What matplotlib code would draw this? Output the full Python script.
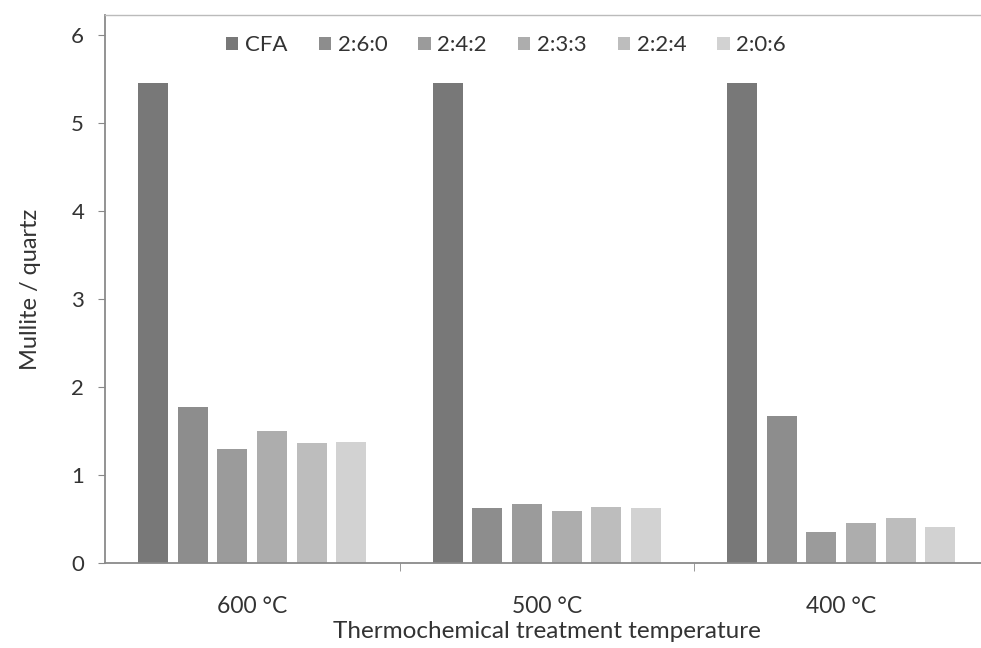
import numpy as np
import matplotlib
matplotlib.use("Agg")
import matplotlib.pyplot as plt

plt.rcParams['font.family'] = ['Lato', 'DejaVu Sans']

# data
temperatures = ["600 °C", "500 °C", "400 °C"]
series_names = ["CFA", "2:6:0", "2:4:2", "2:3:3", "2:2:4", "2:0:6"]
cfa = [5.45, 5.45, 5.45]
r260 = [1.77, 0.62, 1.67]
r242 = [1.30, 0.67, 0.35]
r233 = [1.50, 0.59, 0.46]
r224 = [1.36, 0.64, 0.51]
r206 = [1.37, 0.62, 0.41]
values = [cfa, r260, r242, r233, r224, r206]
colors = ["#787878", "#8d8d8d", "#9b9b9b", "#adadad", "#bdbdbd", "#d2d2d2"]

fig = plt.figure(figsize=(9.81, 6.48), dpi=100)
ax = fig.add_axes([105 / 981, 85 / 648, 883.5 / 981, 548 / 648])

x = np.arange(len(temperatures))
step = 0.1345
width = 0.102
for i, (name, vals, c) in enumerate(zip(series_names, values, colors)):
    offs = (i - 2.5) * step
    ax.bar(x + offs, vals, width=width, color=c, label=name, zorder=2)

ax.set_xlim(-0.5, 2.5)
ax.set_ylim(0, 548 / 88)
ax.set_yticks(range(0, 7))
ax.set_xticks(x)
ax.set_xticklabels(temperatures)
ax.set_xticks([0.5, 1.5], minor=True)
ax.tick_params(axis='x', which='major', length=0, pad=24, labelsize=16.5)
ax.tick_params(axis='x', which='minor', length=6, direction='out', color='#888888')
ax.tick_params(axis='y', length=5, direction='out', color='#888888', labelsize=16, pad=10)
for lbl in ax.get_yticklabels() + ax.get_xticklabels():
    lbl.set_color('#333333')

for s in ax.spines.values():
    s.set_color('#8a8a8a')
    s.set_linewidth(1.3)
ax.spines['top'].set_color('#bbbbbb')
ax.spines['top'].set_linewidth(1.0)

ax.set_xlabel("Thermochemical treatment temperature", fontsize=17.5, color='#333333', labelpad=3)
ax.set_ylabel("Mullite / quartz", fontsize=17, color='#333333', labelpad=22)

leg = ax.legend(loc='center', bbox_to_anchor=(0.454, 0.945), ncol=6, frameon=False,
                handlelength=0.55, handleheight=0.55, handletextpad=0.3, columnspacing=1.4,
                fontsize=16)
for t in leg.get_texts():
    t.set_color('#333333')

fig.savefig("out.png", dpi=100)
